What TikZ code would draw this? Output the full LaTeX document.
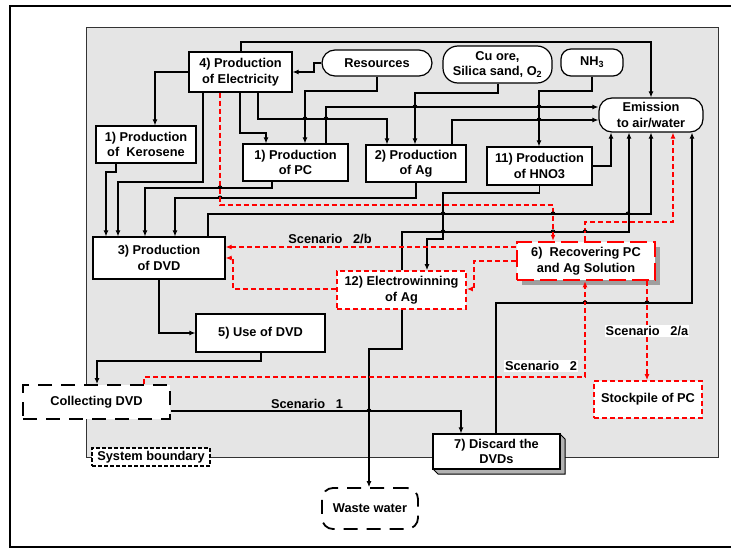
\documentclass[tikz,border=0pt]{standalone}
\usepackage{fontspec}
\setmainfont{Liberation Sans}
\usetikzlibrary{arrows.meta}
\begin{document}
\begin{tikzpicture}[x=1pt,y=-1pt,
  font=\fontsize{12.8}{15.5}\selectfont\bfseries,
  box/.style={draw,fill=white,line width=1.2pt,inner sep=0pt,align=center},
  rbox/.style={box,draw=red,line width=1.8pt,dash pattern=on 5pt off 3pt},
  ln/.style={line width=1.1pt,draw=black},
  ar/.style={ln,-{Latex[length=6pt,width=5pt]}},
  rd/.style={draw=red,line width=1.8pt,dash pattern=on 5pt off 3pt},
  rar/.style={rd,-{Latex[length=6pt,width=5pt]}},
  lab/.style={inner sep=1pt,align=center},
  hop/.style={line width=1pt}
]
\useasboundingbox (0,0) rectangle (731,549);
% frame and system boundary region
\draw[line width=2pt] (10,6) rectangle (736,547);
\draw[draw=black!80,fill=gray!20,line width=0.8pt] (86,27) rectangle (718,457);
% shadows
\fill[gray!75] (522,247) rectangle (660,285);
\draw[line width=1pt,fill=gray!60] (433,469) -- (438,474) -- (565,474) -- (565,439) -- (560,434) -- cycle;

% nodes
\node[box,minimum width=103,minimum height=40] (elec) at (240.5,72) {4) Production\\ of Electricity};
\node[box,rounded corners=13,minimum width=110,minimum height=26] (res) at (377,63) {Resources};
\node[box,rounded corners=15,minimum width=109,minimum height=37] (cu) at (497.5,64.5) {Cu ore,\\Silica sand, O\textsubscript{2}};
\node[box,rounded corners=10,minimum width=62,minimum height=27] (nh3) at (592,62.5) {NH\textsubscript{3}};
\node[box,rounded corners=13,minimum width=104,minimum height=34] (emis) at (651,115) {Emission\\to air/water};
\node[box,minimum width=100,minimum height=37] (ker) at (146,144.5) {1) Production\\of~ Kerosene};
\node[box,minimum width=105,minimum height=37] (pc) at (295.5,162.5) {1) Production\\of PC};
\node[box,minimum width=100,minimum height=37] (ag) at (416,163.5) {2) Production\\of Ag};
\node[box,minimum width=105,minimum height=38] (hno3) at (539.5,166) {11) Production\\of HNO3};
\node[box,minimum width=132,minimum height=42] (dvd) at (159,258) {3) Production\\of DVD};
\node[box,minimum width=129,minimum height=38] (use) at (260.5,333) {5) Use of DVD};
\node[rbox,minimum width=129,minimum height=38] (ew) at (401.5,290) {12) Electrowinning\\of Ag};
\node[box,draw=red,line width=2.5pt,dash pattern=on 17pt off 6pt,minimum width=138,minimum height=38] (rec) at (586,261) {6)~ Recovering PC\\and Ag Solution};
\node[rbox,minimum width=108,minimum height=37] (stock) at (648,399.5) {Stockpile of PC};
\node[box,minimum width=127,minimum height=35] (disc) at (496.5,451.5) {7) Discard the\\DVDs};
\node[box,line width=2pt,dash pattern=on 14pt off 9pt,minimum width=147,minimum height=34] (coll) at (96.5,402) {Collecting DVD};
\node[box,line width=1.4pt,dash pattern=on 4pt off 2pt,minimum width=118,minimum height=18] (sysb) at (151,457) {System boundary};
\node[box,line width=1.8pt,dash pattern=on 14pt off 9pt,rounded corners=11,minimum width=96,minimum height=41] (waste) at (370,508.5) {Waste water};

% black connectors
\draw[ar] (241,0 |- elec.north) -- (241,42) -| (651,0 |- emis.north);
\draw[ar] (res.west) -- (314,63) |- (elec.east);
\draw[ar] (elec.west) -| (155,0 |- ker.north);
\draw[ar] (res.south) -- (377,91) -| (305,0 |- pc.north);
\draw[ar] (258,0 |- elec.south) |- (387,119) -- (387,0 |- ag.north);
\draw[ar] (240,0 |- elec.south) |- (266,133) -- (266,0 |- pc.north);
\draw[ar] (203,0 |- elec.south) |- (118,182) -- (118,0 |- dvd.north);
\draw[ar] (116,0 |- ker.south) |- (106,172) -- (106,0 |- dvd.north);
\draw[ar] (272,0 |- pc.south) |- (145,188) -- (145,0 |- dvd.north);
\draw[ar] (416,0 |- ag.south) |- (175,198) -- (175,0 |- dvd.north);
\draw[ar] (498,0 |- cu.south) |- (415,93) -- (415,0 |- ag.north);
\draw[ar] (nh3.south) |- (539,91) -- (539,0 |- hno3.north);
\draw[ar] (326,0 |- pc.north) |- (emis.west |- 0,107);
\draw[ar] (452,0 |- ag.north) |- (emis.west |- 0,120);
\draw[ar] (hno3.east) -| (611,0 |- emis.south);
\draw[ar] (hno3.south) |- (443,193) -- (443,239) -| (427,0 |- ew.north);
\draw[ar] (208,0 |- dvd.north) |- (651,214) -- (651,0 |- emis.south);
\draw[ar] (402,0 |- ew.north) |- (629,232) -- (629,0 |- emis.south);
\draw[ar] (496,0 |- disc.north) |- (692,303) -- (692,0 |- emis.south);
\draw[ar] (402,0 |- ew.south) |- (369,349) -- (369,0 |- waste.north);
\draw[ar] (dvd.south) |- (use.west);
\draw[ar] (261,0 |- use.south) |- (97,361) -- (97,0 |- coll.north);
\draw[ar] (coll.east |- 0,411) -| (461,0 |- disc.north);

% red connectors
\draw[rar] (220,0 |- elec.south) |- (553,205) -- (553,0 |- rec.north);
\draw[rar] (585,0 |- rec.north) |- (673,222) -- (673,0 |- emis.south);
\draw[rar] (144,0 |- coll.north) |- (585,377) -- (585,0 |- rec.south);
\draw[rar] (647,0 |- rec.south) -- (647,0 |- stock.north);
\draw[rar] (rec.west |- 0,247) -- (dvd.east |- 0,247);
\draw[rar] (rec.west |- 0,261) -| (474,289) -- (ew.east |- 0,289);
\draw[rar] (ew.west |- 0,289) -| (233,258) -- (dvd.east |- 0,258);

% line hops
\foreach \x/\y in {220/188,220/198,305/119,326/119,415/107,539/107,539/120,443/214,553/214,628/214,443/232,553/232,585/232,585/303,647/303,369/411}
  \draw[hop] (\x-2,\y) arc[start angle=180,end angle=360,radius=2];

% labels
\node[lab] (s2b) at (330,239) {Scenario~~ 2/b};
\node[lab,fill=white] (s2a) at (647,331) {Scenario~~ 2/a};
\node[lab,fill=white] (s2) at (541,366) {Scenario~~ 2};
\node[lab] (s1) at (307,404) {Scenario~~ 1};
\end{tikzpicture}
\end{document}
